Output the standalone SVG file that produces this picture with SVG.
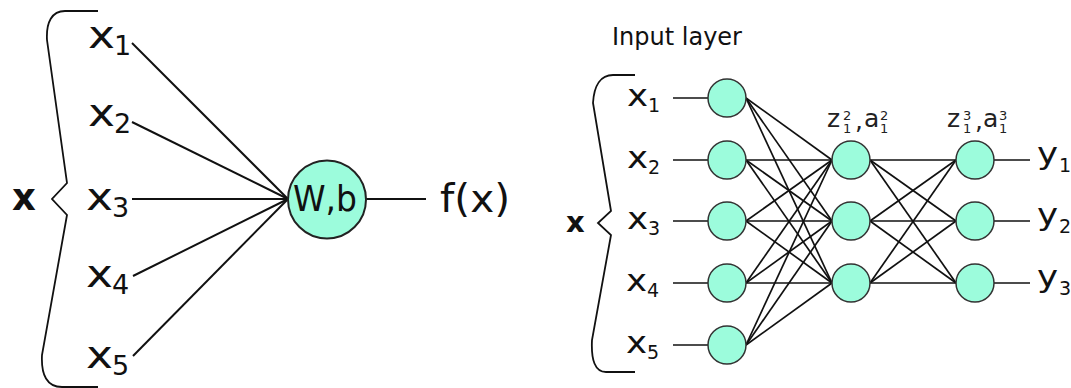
<svg xmlns="http://www.w3.org/2000/svg" width="1071" height="388" viewBox="0 0 1071 388">
<style>
  text { font-family: "DejaVu Sans", Verdana, sans-serif; fill: #111; }
  .node { fill: #9cfcdc; stroke: #333; stroke-width: 1.5; }
  .big { fill: #9cfcdc; stroke: #222; stroke-width: 2; }
  .ln { stroke: #111; stroke-width: 1.7; fill: none; }
  .lnL { stroke: #111; stroke-width: 2; fill: none; }
  .brace { stroke: #111; stroke-width: 1.8; fill: none; }
  .bx { font-weight: bold; }
  .lx { font-size: 38px; }
  .ls { font-size: 27px; }
  .rx { font-size: 31px; }
  .rs { font-size: 19px; }
  .hl { font-size: 25px; fill: #222; }
  .hs { font-size: 13px; fill: #222; }
</style>
<rect width="1071" height="388" fill="#ffffff"/>

<!-- Left panel -->
<g id="left-connectors">
  <line class="lnL" x1="132" y1="43" x2="288" y2="199"/>
  <line class="lnL" x1="132" y1="122" x2="288" y2="199"/>
  <line class="lnL" x1="132" y1="199" x2="288" y2="199"/>
  <line class="lnL" x1="133" y1="276" x2="288" y2="199"/>
  <line class="lnL" x1="133" y1="356" x2="288" y2="199"/>
  <line class="lnL" x1="366" y1="199" x2="426" y2="199"/>
</g>
<g id="left-brace">
  <path class="brace" d="M98,11 L65,11 C52,11 46,22 47,40 L67,183 L52,199 L67,215 L42,355 C41,375 47,387 62,387 L98,387"/>
  <text class="bx" x="12" y="210" font-size="37">x</text>
</g>
<g id="left-x1"><text class="lx" transform="translate(88,48) scale(1.2,1)">x</text><text class="ls" x="114" y="55">1</text></g>
<g id="left-x2"><text class="lx" transform="translate(88,126) scale(1.2,1)">x</text><text class="ls" x="114" y="133">2</text></g>
<g id="left-x3"><text class="lx" transform="translate(86,210) scale(1.2,1)">x</text><text class="ls" x="112" y="217">3</text></g>
<g id="left-x4"><text class="lx" transform="translate(86,287) scale(1.2,1)">x</text><text class="ls" x="112" y="294">4</text></g>
<g id="left-x5"><text class="lx" transform="translate(86,368) scale(1.2,1)">x</text><text class="ls" x="112" y="375">5</text></g>
<g id="neuron">
  <circle class="big" cx="327" cy="199.5" r="39"/>
  <text x="293" y="211" font-size="36" textLength="64" lengthAdjust="spacingAndGlyphs">W,b</text>
</g>
<g id="output-fx"><text x="440" y="212" font-size="39" textLength="70" lengthAdjust="spacingAndGlyphs">f(x)</text></g>

<!-- Right panel -->
<text x="612" y="45" font-size="24" fill="#222">Input layer</text>
<g id="right-connectors">
  <line class="ln" x1="673" y1="98" x2="708" y2="98"/>
  <line class="ln" x1="673" y1="160" x2="708" y2="160"/>
  <line class="ln" x1="673" y1="221" x2="708" y2="221"/>
  <line class="ln" x1="673" y1="283" x2="708" y2="283"/>
  <line class="ln" x1="673" y1="345" x2="708" y2="345"/>

  <line class="ln" x1="746" y1="98" x2="832" y2="160"/>
  <line class="ln" x1="746" y1="98" x2="832" y2="221"/>
  <line class="ln" x1="746" y1="98" x2="832" y2="283"/>
  <line class="ln" x1="746" y1="160" x2="832" y2="160"/>
  <line class="ln" x1="746" y1="160" x2="832" y2="221"/>
  <line class="ln" x1="746" y1="160" x2="832" y2="283"/>
  <line class="ln" x1="746" y1="221" x2="832" y2="160"/>
  <line class="ln" x1="746" y1="221" x2="832" y2="221"/>
  <line class="ln" x1="746" y1="221" x2="832" y2="283"/>
  <line class="ln" x1="746" y1="283" x2="832" y2="160"/>
  <line class="ln" x1="746" y1="283" x2="832" y2="221"/>
  <line class="ln" x1="746" y1="283" x2="832" y2="283"/>
  <line class="ln" x1="746" y1="345" x2="832" y2="160"/>
  <line class="ln" x1="746" y1="345" x2="832" y2="221"/>
  <line class="ln" x1="746" y1="345" x2="832" y2="283"/>

  <line class="ln" x1="870" y1="160" x2="956" y2="160"/>
  <line class="ln" x1="870" y1="160" x2="956" y2="221"/>
  <line class="ln" x1="870" y1="160" x2="956" y2="283"/>
  <line class="ln" x1="870" y1="221" x2="956" y2="160"/>
  <line class="ln" x1="870" y1="221" x2="956" y2="221"/>
  <line class="ln" x1="870" y1="221" x2="956" y2="283"/>
  <line class="ln" x1="870" y1="283" x2="956" y2="160"/>
  <line class="ln" x1="870" y1="283" x2="956" y2="221"/>
  <line class="ln" x1="870" y1="283" x2="956" y2="283"/>

  <line class="ln" x1="994" y1="160" x2="1030" y2="160"/>
  <line class="ln" x1="994" y1="221" x2="1030" y2="221"/>
  <line class="ln" x1="994" y1="283" x2="1030" y2="283"/>
</g>
<g id="right-brace">
  <path class="brace" d="M635,75 L613,75 C601,75 594,85 593,103 L611,211 L598,223 L611,235 L592,340 C591,360 595,372 606,372 L635,372"/>
  <text class="bx" x="566" y="232" font-size="29">x</text>
</g>
<g id="rx1"><text class="rx" transform="translate(627,106) scale(1.15,1)">x</text><text class="rs" x="648" y="112">1</text></g>
<g id="rx2"><text class="rx" transform="translate(627,168) scale(1.15,1)">x</text><text class="rs" x="648" y="174">2</text></g>
<g id="rx3"><text class="rx" transform="translate(627,229) scale(1.15,1)">x</text><text class="rs" x="648" y="235">3</text></g>
<g id="rx4"><text class="rx" transform="translate(626,291) scale(1.15,1)">x</text><text class="rs" x="647" y="297">4</text></g>
<g id="rx5"><text class="rx" transform="translate(626,353) scale(1.15,1)">x</text><text class="rs" x="647" y="359">5</text></g>

<g id="in1"><circle class="node" cx="727" cy="98" r="19"/></g>
<g id="in2"><circle class="node" cx="727" cy="160" r="19"/></g>
<g id="in3"><circle class="node" cx="727" cy="221" r="19"/></g>
<g id="in4"><circle class="node" cx="727" cy="283" r="19"/></g>
<g id="in5"><circle class="node" cx="727" cy="345" r="19"/></g>

<g id="h1">
  <circle class="node" cx="851" cy="160" r="19"/>
  <text class="hl" x="827" y="127">z</text><text class="hs" x="843" y="120">2</text><text class="hs" x="843" y="133">1</text>
  <text class="hl" x="855" y="129">,</text>
  <text class="hl" x="864" y="127">a</text><text class="hs" x="880" y="120">2</text><text class="hs" x="880" y="133">1</text>
</g>
<g id="h2"><circle class="node" cx="851" cy="221" r="19"/></g>
<g id="h3"><circle class="node" cx="851" cy="283" r="19"/></g>

<g id="o1">
  <circle class="node" cx="975" cy="160" r="19"/>
  <text class="hl" x="947" y="127">z</text><text class="hs" x="963" y="120">3</text><text class="hs" x="963" y="133">1</text>
  <text class="hl" x="975" y="129">,</text>
  <text class="hl" x="983" y="127">a</text><text class="hs" x="999" y="120">3</text><text class="hs" x="999" y="133">1</text>
</g>
<g id="o2"><circle class="node" cx="975" cy="221" r="19"/></g>
<g id="o3"><circle class="node" cx="975" cy="283" r="19"/></g>

<g id="y1"><text class="rx" transform="translate(1037,164) scale(1.15,1)">y</text><text class="rs" x="1059" y="172">1</text></g>
<g id="y2"><text class="rx" transform="translate(1037,225) scale(1.15,1)">y</text><text class="rs" x="1059" y="233">2</text></g>
<g id="y3"><text class="rx" transform="translate(1037,287) scale(1.15,1)">y</text><text class="rs" x="1059" y="295">3</text></g>
</svg>
